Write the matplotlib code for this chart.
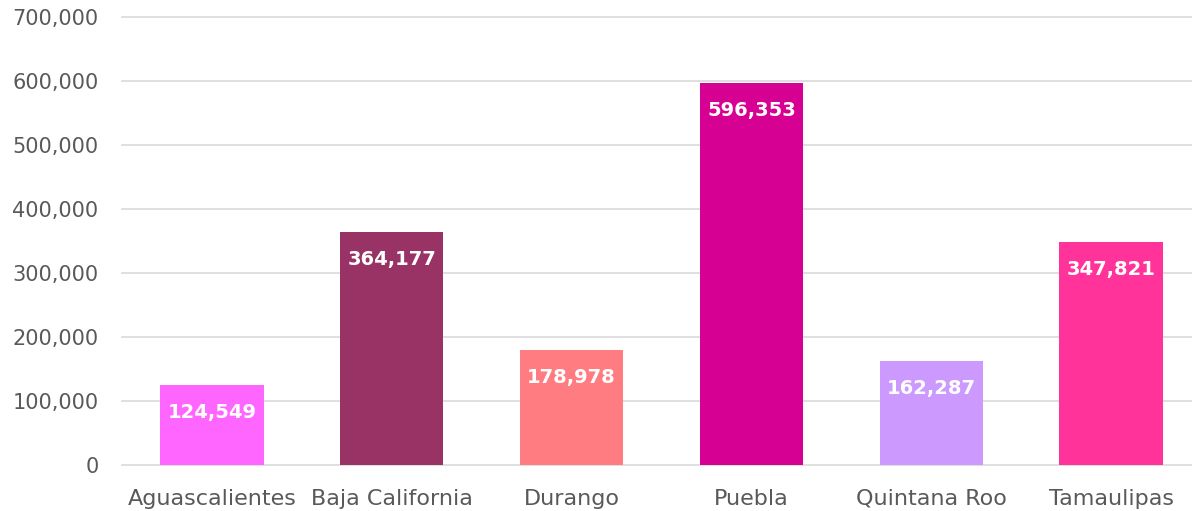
import matplotlib.pyplot as plt
from matplotlib.ticker import FuncFormatter

estados = ['Aguascalientes', 'Baja California', 'Durango', 'Puebla', 'Quintana Roo', 'Tamaulipas']
valores = [124549, 364177, 178978, 596353, 162287, 347821]
colores = ['#FF66FF', '#993366', '#FF7C80', '#D60093', '#CC99FF', '#FF3399']

plt.rcParams['font.family'] = ['DejaVu Sans']

fig = plt.figure(figsize=(11.92, 5.11), dpi=100)
ax = fig.add_axes([122 / 1192, 1 - 465 / 511, 1 - 122 / 1192, (465 - 17) / 511])

x = range(len(estados))
bars = ax.bar(x, valores, width=0.575, color=colores, zorder=2)

for b, v in zip(bars, valores):
    ax.text(b.get_x() + b.get_width() / 2, v - 43000, f'{v:,}', ha='center', va='center',
            color='white', fontsize=14, fontweight='bold', zorder=3)

ax.set_ylim(0, 700000)
ax.set_xlim(-0.5, 5.45)
ax.set_yticks(range(0, 700001, 100000))
ax.yaxis.set_major_formatter(FuncFormatter(lambda v, p: f'{int(v):,}'))
ax.set_xticks(list(x))
ax.set_xticklabels(estados)
ax.grid(axis='y', color='#D9D9D9', linewidth=1.2, zorder=0)
for gl in ax.get_ygridlines():
    gl.set_clip_on(False)
for s in ax.spines.values():
    s.set_visible(False)
ax.tick_params(length=0, labelcolor='#595959')
ax.tick_params(axis='y', pad=17, labelsize=15)
ax.tick_params(axis='x', pad=17, labelsize=16)

fig.savefig('out.png', dpi=100)
